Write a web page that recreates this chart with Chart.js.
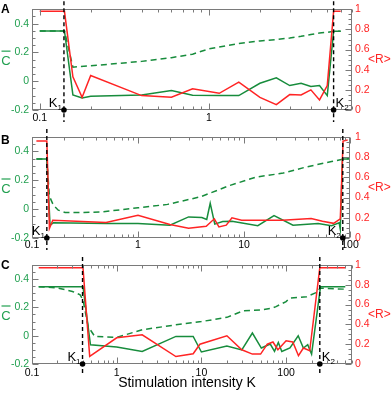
<!DOCTYPE html>
<html><head><meta charset="utf-8">
<script src="https://cdn.jsdelivr.net/npm/chart.js@4.4.1/dist/chart.umd.min.js"></script>
<style>
html,body{margin:0;padding:0;background:#fff;}
#wrap{position:relative;width:392px;height:393px;overflow:hidden;background:#fff;}
canvas{position:absolute;left:0;}
</style></head><body>
<div id="wrap">
<canvas id="cA" width="392" height="125" style="top:0px"></canvas>
<canvas id="cB" width="392" height="125" style="top:125px"></canvas>
<canvas id="cC" width="392" height="143" style="top:250px"></canvas>
</div>
<script>
// ---------- shared tick labels ----------
const LEFT_TICKS = [-0.2, 0, 0.2, 0.4];
const RIGHT_TICKS = [0, 0.2, 0.4, 0.6, 0.8, 1];
const X_TITLE = 'Stimulation intensity K';

// ---------- Panel A ----------
const A_K  = [0.1, 0.14, 0.157, 0.178, 0.2, 0.4, 0.6, 0.8, 1.15, 1.5, 2, 2.5, 3, 3.5, 4, 4.5, 5, 5.45, 6];
const A_R  = [0.98, 0.98, 0.33, 0.126, 0.343, 0.143, 0.126, 0.21, 0.166, 0.276, 0.126, 0.053, 0.153, 0.15, 0.2, 0.1, 0.243, 0.98, 0.98];
const A_C  = [0.35, 0.35, -0.095, -0.116, -0.105, -0.095, -0.065, -0.098, -0.1, -0.1, -0.014, 0.024, -0.03, -0.014, -0.037, -0.03, -0.1, 0.348, 0.348];
const A_KD = [0.1, 0.14, 0.157, 0.2, 0.3, 0.4, 0.6, 0.8, 1, 1.5, 2, 2.5, 3, 3.5, 4, 4.5, 5, 5.45, 6];
const A_CD = [0.35, 0.35, 0.098, 0.107, 0.125, 0.138, 0.164, 0.188, 0.225, 0.262, 0.28, 0.29, 0.3, 0.312, 0.325, 0.335, 0.34, 0.348, 0.348];
const A_MARKS = [0.139, 5.45];
const A_XTICKS = [0.1, 1];

// ---------- Panel B ----------
const B_KR = [0.11, 0.138, 0.146, 0.157, 0.5, 1, 2, 3, 4.4, 5.25, 5.8, 6.8, 7.7, 9.5, 23, 43, 55, 70, 81, 86, 95];
const B_R  = [0.96, 0.96, 0.094, 0.176, 0.153, 0.226, 0.133, 0.097, 0.117, 0.19, 0.11, 0.127, 0.2, 0.176, 0.176, 0.193, 0.165, 0.145, 0.19, 0.96, 0.97];
const B_KC = [0.11, 0.138, 0.148, 0.159, 0.5, 1, 2, 3, 4, 4.45, 4.8, 5.3, 6.3, 7.7, 13.5, 19.2, 29, 50, 67, 79, 81, 85, 99];
const B_C  = [0.347, 0.347, -0.111, -0.095, -0.1, -0.1, -0.111, -0.054, -0.058, -0.072, 0.04, -0.104, -0.086, -0.084, -0.115, -0.045, -0.111, -0.1, -0.115, -0.095, -0.14, 0.347, 0.347];
const B_KD = [0.11, 0.138, 0.146, 0.159, 0.177, 0.205, 0.3, 0.45, 1, 1.9, 3.9, 7.4, 13, 23.5, 39, 67, 85, 99];
const B_CD = [0.347, 0.347, 0.09, 0.028, -0.007, -0.023, -0.024, -0.019, 0.009, 0.033, 0.086, 0.165, 0.222, 0.25, 0.293, 0.33, 0.345, 0.352];
const B_MARKS = [0.138, 85.5];
const B_XTICKS = [0.1, 1, 10, 100];

// ---------- Panel C ----------
const C_KR = [0.12, 0.4, 0.48, 1, 2, 5, 8, 9.6, 20, 30, 40, 50, 60, 70, 80, 100, 120, 140, 160, 190, 250, 500];
const C_R  = [0.973, 0.973, 0.077, 0.265, 0.295, 0.075, 0.104, 0.2, 0.285, 0.144, 0.1, 0.1, 0.2, 0.222, 0.144, 0.235, 0.222, 0.084, 0.161, 0.134, 0.973, 0.973];
const C_KC = [0.12, 0.4, 0.49, 1, 2, 5, 8, 10, 20, 30, 40, 51, 65, 73, 81, 89, 111, 139, 160, 180, 200, 255, 500];
const C_C  = [0.347, 0.347, -0.064, -0.08, -0.111, -0.005, -0.005, -0.115, -0.073, -0.1, 0.019, -0.087, -0.059, -0.111, -0.048, -0.111, -0.087, 0.0, -0.087, -0.064, -0.13, 0.347, 0.347];
const C_KD = [0.12, 0.2, 0.3, 0.37, 0.4, 0.46, 0.55, 1, 2, 5, 10, 20, 31, 53, 68, 76, 100, 110, 175, 236, 250, 500];
const C_CD = [0.347, 0.338, 0.313, 0.289, 0.253, 0.065, -0.005, -0.012, 0.042, 0.077, 0.1, 0.13, 0.176, 0.183, 0.195, 0.206, 0.241, 0.265, 0.276, 0.31, 0.336, 0.329];
const C_MARKS = [0.395, 250];
const C_XTICKS = [0.1, 1, 10, 100];

// ---------- styling ----------
const FONT = '"Liberation Sans", Arial, Helvetica, sans-serif';
const RED = '#ff2424';
const GREEN = '#178c3c';
const GREEN_TXT = '#21a050';
const FRAME = '#7a7a7a';

function pairs(ks, vs) { return ks.map((k, i) => ({x: k, y: vs[i]})); }

function decor(p) {
  return {
    id: 'decor' + p.letter,
    afterDraw(chart) {
      const ctx = chart.ctx, a = chart.chartArea;
      const xs = chart.scales.x, yl = chart.scales.y, yr = chart.scales.y2;
      ctx.save();
      // frame
      const L = Math.round(a.left) + 0.5, R = Math.round(a.right) - 0.5;
      const T = Math.round(a.top) + 0.5, B = Math.round(a.bottom) - 0.5;
      ctx.strokeStyle = FRAME; ctx.lineWidth = 1; ctx.setLineDash([]);
      ctx.strokeRect(L, T, R - L, B - T);
      ctx.beginPath();
      // x ticks (log)
      const e0 = Math.floor(Math.log10(xs.min)), e1 = Math.ceil(Math.log10(xs.max));
      for (let e = e0; e <= e1; e++) {
        for (let m = 1; m <= 9; m++) {
          const v = m * Math.pow(10, e);
          if (v < xs.min * 0.999 || v > xs.max * 1.001) continue;
          const px = Math.round(xs.getPixelForValue(v)) + 0.5;
          const len = m === 1 ? 6 : 3;
          ctx.moveTo(px, B); ctx.lineTo(px, B - len);
          ctx.moveTo(px, T); ctx.lineTo(px, T + len);
        }
      }
      // left ticks
      for (let i = -4; i <= 10; i++) {
        const v = i * 0.05;
        const py = Math.round(yl.getPixelForValue(v)) + 0.5;
        const len = (i % 4 === 0) ? 6 : 3;
        ctx.moveTo(L, py); ctx.lineTo(L + len, py);
      }
      // right ticks
      for (let j = 0; j <= 20; j++) {
        const v = j * 0.05;
        const py = Math.round(yr.getPixelForValue(v)) + 0.5;
        const len = (j % 4 === 0) ? 6 : 3;
        ctx.moveTo(R, py); ctx.lineTo(R - len, py);
      }
      ctx.stroke();

      // K1 / K2 markers
      ctx.strokeStyle = '#000'; ctx.lineWidth = 1.4; ctx.setLineDash([4, 3]);
      p.marks.forEach(k => {
        const px = xs.getPixelForValue(k);
        ctx.beginPath(); ctx.moveTo(px, a.top - 8); ctx.lineTo(px, a.bottom + 12); ctx.stroke();
      });
      ctx.setLineDash([]);
      ctx.fillStyle = '#000';
      p.marks.forEach((k, idx) => {
        const px = xs.getPixelForValue(k);
        ctx.beginPath(); ctx.arc(px, a.bottom, 2.8, 0, Math.PI * 2); ctx.fill();
        ctx.font = '13px ' + FONT;
        const kw = ctx.measureText('K').width;
        ctx.font = '8px ' + FONT;
        const sub = String(idx + 1);
        const sw = ctx.measureText(sub).width;
        const side = p.sides[idx];
        const x0 = side === 'left' ? px - 2 - kw - sw : px + 2;
        const yb = a.bottom - 3.5;
        ctx.textAlign = 'left'; ctx.textBaseline = 'alphabetic';
        ctx.font = '13px ' + FONT; ctx.fillText('K', x0, yb);
        ctx.font = '8px ' + FONT; ctx.fillText(sub, x0 + kw, yb + 3);
      });

      // panel letter
      ctx.fillStyle = '#000'; ctx.font = 'bold 12px ' + FONT;
      ctx.textAlign = 'left'; ctx.textBaseline = 'alphabetic';
      ctx.fillText(p.letter, 1, p.letterY);

      // left title C-bar
      const mid = (a.top + a.bottom) / 2;
      ctx.fillStyle = GREEN_TXT; ctx.font = '13px ' + FONT;
      ctx.textAlign = 'center';
      ctx.fillText('C', 6, mid + 5);
      ctx.strokeStyle = GREEN_TXT; ctx.lineWidth = 1.2;
      ctx.beginPath(); ctx.moveTo(1.5, mid - 8.5); ctx.lineTo(10.5, mid - 8.5); ctx.stroke();

      // right title <R>
      ctx.fillStyle = RED; ctx.font = '12px ' + FONT;
      ctx.textAlign = 'left'; ctx.textBaseline = 'middle';
      ctx.fillText('<R>', 368, mid);

      // x title
      if (p.xtitle) {
        ctx.fillStyle = '#000'; ctx.font = '14px ' + FONT;
        ctx.textAlign = 'center'; ctx.textBaseline = 'middle';
        ctx.fillText(X_TITLE, 187, p.xtitleY);
      }
      ctx.restore();
    }
  };
}

function makePanel(id, p) {
  return new Chart(document.getElementById(id), {
    type: 'line',
    data: { datasets: [
      {data: pairs(p.kr, p.r), yAxisID: 'y2', borderColor: RED, borderWidth: 1.5, pointRadius: 0, tension: 0, order: 0},
      {data: pairs(p.kc, p.c), yAxisID: 'y', borderColor: GREEN, borderWidth: 1.5, pointRadius: 0, tension: 0, order: 1},
      {data: pairs(p.kd, p.d), yAxisID: 'y', borderColor: GREEN, borderWidth: 1.5, borderDash: [6, 4], pointRadius: 0, tension: 0, order: 2}
    ]},
    options: {
      responsive: false, animation: false, events: [],
      layout: {padding: {top: p.top, left: 0, right: 0, bottom: 0}},
      plugins: {legend: {display: false}, tooltip: {enabled: false}},
      scales: {
        x: {
          type: 'logarithmic', position: 'bottom', min: p.xmin, max: p.xmax,
          grid: {display: false, drawTicks: false}, border: {display: false},
          afterBuildTicks: s => { s.ticks = p.xticks.map(v => ({value: v})); },
          afterFit: s => { s.height = p.xh; },
          ticks: {autoSkip: false, maxRotation: 0, padding: p.xpad, color: '#000',
                  font: {family: FONT, size: 10.5}, callback: v => String(v)}
        },
        y: {
          position: 'left', min: -0.2, max: 0.5,
          grid: {display: false, drawTicks: false}, border: {display: false},
          afterBuildTicks: s => { s.ticks = LEFT_TICKS.map(v => ({value: v})); },
          afterFit: s => { s.width = 32; },
          ticks: {padding: 3, color: GREEN_TXT, font: {family: FONT, size: 10.5}, callback: v => String(v)}
        },
        y2: {
          position: 'right', min: 0, max: 1,
          grid: {display: false, drawTicks: false}, border: {display: false},
          afterBuildTicks: s => { s.ticks = RIGHT_TICKS.map(v => ({value: v})); },
          afterFit: s => { s.width = p.rw; },
          ticks: {padding: p.rpad, color: RED, font: {family: FONT, size: 10.5}, callback: v => String(v)}
        }
      }
    },
    plugins: [decor(p)]
  });
}

makePanel('cA', {letter: 'A', letterY: 13, top: 8, xh: 15, rw: 40, rpad: 3, xpad: 2,
  xmin: 0.09, xmax: 7, xticks: A_XTICKS, marks: A_MARKS, sides: ['left', 'right'],
  kr: A_K, r: A_R, kc: A_K, c: A_C, kd: A_KD, d: A_CD});
makePanel('cB', {letter: 'B', letterY: 19, top: 12, xh: 12, rw: 42, rpad: 5, xpad: 1,
  xmin: 0.1, xmax: 100, xticks: B_XTICKS, marks: B_MARKS, sides: ['left', 'left'],
  kr: B_KR, r: B_R, kc: B_KC, c: B_C, kd: B_KD, d: B_CD});
makePanel('cC', {letter: 'C', letterY: 19, top: 15, xh: 29, rw: 40, rpad: 3, xpad: 3,
  xmin: 0.1, xmax: 600, xticks: C_XTICKS, marks: C_MARKS, sides: ['left', 'right'],
  xtitle: true, xtitleY: 133,
  kr: C_KR, r: C_R, kc: C_KC, c: C_C, kd: C_KD, d: C_CD});
</script>
</body></html>
